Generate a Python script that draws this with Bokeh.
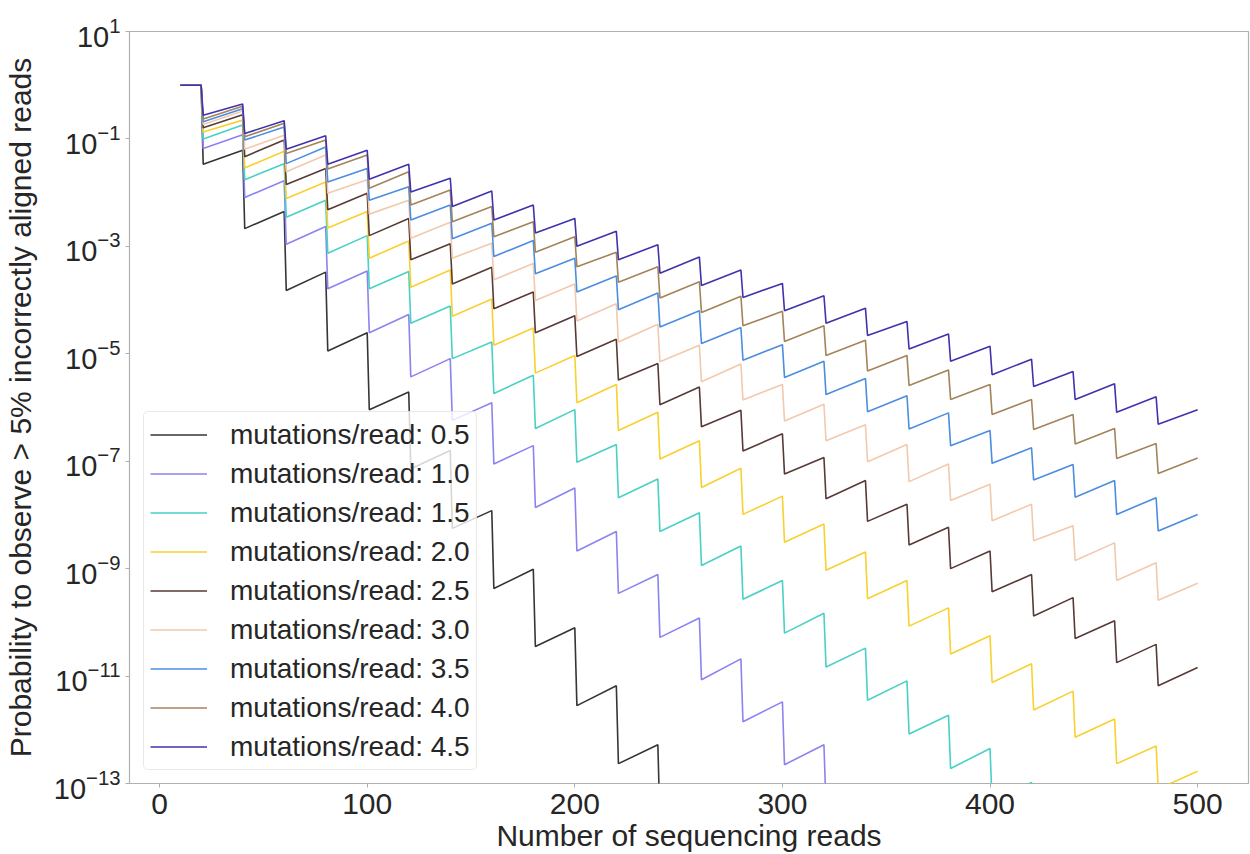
from bokeh.plotting import figure
from bokeh.models import Range1d, FixedTicker, Legend, LegendItem
from bokeh.embed import file_html
from bokeh.resources import INLINE

# ---------------- data ----------------
mutation_rates = ["0.5", "1.0", "1.5", "2.0", "2.5", "3.0", "3.5", "4.0", "4.5"]
line_colors = ["#353535", "#8b83f2", "#48d1c4", "#f9d030", "#573a36",
               "#f2c9ad", "#4b8de0", "#a3835a", "#3f33ad"]

# reads 10..20: probability 1 for every series
initial_reads = [10, 20]
initial_prob = [1.0, 1.0]

# every later block of 20 reads: first read (after the drop) and last read
block_first_read = [21, 41, 61, 81, 101, 121, 141, 161, 181, 201, 221, 241,
                    261, 281, 301, 321, 341, 361, 381, 401, 421, 441, 461, 481]
block_last_read = [40, 60, 80, 100, 120, 140, 160, 180, 200, 220, 240, 260,
                   280, 300, 320, 340, 360, 380, 400, 420, 440, 460, 480, 500]

# log10(probability) at the first / last read of each block
start_05 = [-1.47, -2.67, -3.82, -4.95, -6.04, -7.14, -8.25, -9.37, -10.45, -11.55, -12.63, -13.72]
end_05 = [-1.21, -2.35, -3.48, -4.61, -5.71, -6.80, -7.92, -9.01, -10.10, -11.18, -12.28]

start_10 = [-1.18, -2.09, -2.96, -3.79, -4.61, -5.43, -6.24, -7.05, -7.86, -8.67, -9.46, -10.28,
            -11.07, -11.85, -12.65, -13.45]
end_10 = [-0.92, -1.78, -2.63, -3.46, -4.27, -5.09, -5.91, -6.71, -7.50, -8.31, -9.11, -9.92,
          -10.68, -11.48, -12.28, -13.08]

start_15 = [-1.00, -1.76, -2.46, -3.13, -3.79, -4.43, -5.09, -5.74, -6.39, -7.02, -7.68, -8.31,
            -8.94, -9.57, -10.20, -10.83, -11.45, -12.08, -12.72, -13.35, -13.97]
end_15 = [-0.74, -1.46, -2.14, -2.80, -3.47, -4.11, -4.78, -5.40, -6.04, -6.69, -7.33, -7.96,
          -8.58, -9.22, -9.83, -10.48, -11.09, -11.73, -12.35, -12.98]

start_20 = [-0.87, -1.54, -2.11, -2.66, -3.22, -3.76, -4.30, -4.84, -5.36, -5.91, -6.43, -6.96,
            -7.49, -7.99, -8.51, -9.03, -9.56, -10.07, -10.59, -11.12, -11.63, -12.14, -12.63, -13.10]
end_20 = [-0.65, -1.23, -1.80, -2.35, -2.90, -3.44, -3.98, -4.52, -5.03, -5.57, -6.09, -6.62,
          -7.13, -7.65, -8.17, -8.69, -9.22, -9.73, -10.25, -10.77, -11.28, -11.80, -12.30, -12.77]

start_25 = [-0.79, -1.33, -1.85, -2.32, -2.80, -3.25, -3.70, -4.16, -4.61, -5.05, -5.49, -5.95,
            -6.36, -6.81, -7.24, -7.70, -8.12, -8.56, -9.00, -9.43, -9.88, -10.30, -10.75, -11.18]
end_25 = [-0.55, -1.02, -1.55, -2.01, -2.48, -2.95, -3.39, -3.85, -4.29, -4.73, -5.18, -5.62,
          -6.05, -6.49, -6.93, -7.36, -7.80, -8.23, -8.67, -9.11, -9.54, -9.97, -10.41, -10.84]

start_30 = [-0.73, -1.19, -1.61, -2.01, -2.40, -2.85, -3.22, -3.62, -4.01, -4.39, -4.78, -5.15,
            -5.52, -5.86, -6.25, -6.62, -7.01, -7.38, -7.73, -8.11, -8.48, -8.85, -9.22, -9.59]
end_30 = [-0.48, -0.93, -1.30, -1.76, -2.14, -2.55, -2.94, -3.32, -3.70, -4.07, -4.45, -4.84,
          -5.19, -5.57, -5.94, -6.32, -6.69, -7.05, -7.43, -7.80, -8.20, -8.52, -8.89, -9.27]

start_35 = [-0.68, -1.02, -1.46, -1.80, -2.14, -2.51, -2.86, -3.19, -3.51, -3.85, -4.18, -4.50,
            -4.81, -5.12, -5.44, -5.76, -6.08, -6.40, -6.71, -7.04, -7.35, -7.67, -7.99, -8.30]
end_35 = [-0.44, -0.78, -1.15, -1.55, -1.89, -2.23, -2.57, -2.89, -3.22, -3.55, -3.87, -4.20,
          -4.51, -4.83, -5.14, -5.46, -5.78, -6.10, -6.43, -6.75, -7.06, -7.36, -7.68, -7.99]

start_40 = [-0.63, -0.96, -1.27, -1.56, -1.92, -2.23, -2.54, -2.82, -3.11, -3.38, -3.67, -3.96,
            -4.23, -4.48, -4.77, -5.03, -5.32, -5.59, -5.85, -6.13, -6.41, -6.68, -6.95, -7.23]
end_40 = [-0.39, -0.71, -1.02, -1.30, -1.61, -1.95, -2.26, -2.54, -2.82, -3.11, -3.38, -3.66,
          -3.93, -4.21, -4.48, -4.75, -5.03, -5.30, -5.57, -5.85, -6.13, -6.39, -6.67, -6.94]

start_45 = [-0.56, -0.90, -1.19, -1.47, -1.75, -1.99, -2.26, -2.51, -2.75, -3.00, -3.25, -3.50,
            -3.73, -3.95, -4.20, -4.43, -4.66, -4.91, -5.14, -5.39, -5.61, -5.85, -6.09, -6.31]
end_45 = [-0.35, -0.66, -0.94, -1.21, -1.47, -1.73, -1.97, -2.23, -2.48, -2.72, -2.97, -3.20,
          -3.44, -3.69, -3.92, -4.15, -4.40, -4.63, -4.86, -5.10, -5.33, -5.56, -5.80, -6.04]

series_starts = [start_05, start_10, start_15, start_20, start_25, start_30, start_35, start_40, start_45]
series_ends = [end_05, end_10, end_15, end_20, end_25, end_30, end_35, end_40, end_45]

x_ticks = [0, 100, 200, 300, 400, 500]
y_tick_exponents = [1, -1, -3, -5, -7, -9, -11, -13]

# ---------------- figure ----------------
FONT = "Liberation Sans"
TXT = "#262626"
EDGE = "#b0b0b0"

p = figure(
    width=1250, height=854,
    min_border_left=128, min_border_right=2, min_border_top=31, min_border_bottom=67,
    y_axis_type="log",
    x_range=Range1d(-14.5, 524.5), y_range=Range1d(1e-13, 1e1),
    output_backend="svg", toolbar_location=None,
    background_fill_color="white", border_fill_color="white",
)
p.grid.visible = False
p.outline_line_color = EDGE
p.outline_line_width = 1.2

items = []
for rate, col, st, en in zip(mutation_rates, line_colors, series_starts, series_ends):
    xs = list(initial_reads)
    ys = list(initial_prob)
    for k in range(len(st)):
        xs.append(block_first_read[k])
        ys.append(10.0 ** st[k])
        if k < len(en):
            xs.append(block_last_read[k])
            ys.append(10.0 ** en[k])
    r = p.line(xs, ys, line_color=col, line_width=1.6)
    items.append(LegendItem(label="mutations/read: " + rate, renderers=[r]))

legend = Legend(
    items=items, location=(14, 13),
    label_text_font=FONT, label_text_font_size="28px", label_text_color=TXT,
    glyph_width=57, glyph_height=33, label_height=33, label_standoff=23,
    spacing=6, padding=6, margin=0,
    border_line_color="#d4d4d4", border_line_width=1,
    background_fill_color="white", background_fill_alpha=0.8,
)
try:
    legend.border_radius = 5
except Exception:
    pass
p.add_layout(legend, "center")

y_tick_values = [10.0 ** e for e in y_tick_exponents]
p.yaxis.ticker = FixedTicker(ticks=y_tick_values, minor_ticks=[])
p.xaxis.ticker = FixedTicker(ticks=x_ticks, minor_ticks=[])

for ax in (p.xaxis[0], p.yaxis[0]):
    ax.axis_line_color = None
    ax.major_tick_line_color = EDGE
    ax.major_tick_out = 4
    ax.major_tick_in = 0
    ax.minor_tick_out = 0
    ax.minor_tick_in = 0
    ax.major_label_text_font = FONT
    ax.major_label_text_color = TXT
    ax.axis_label_text_font = FONT
    ax.axis_label_text_color = TXT
    ax.axis_label_text_font_style = "normal"
    ax.axis_label_text_font_size = "30px"

p.xaxis.major_label_text_font_size = "30px"
p.yaxis.major_label_text_font_size = "29px"
p.xaxis.major_label_standoff = 6
p.xaxis.axis_label_standoff = 2
p.yaxis.major_label_standoff = 5
p.yaxis.axis_label_standoff = 14
p.xaxis.axis_label = "Number of sequencing reads"
p.yaxis.axis_label = "Probability to observe > 5% incorrectly aligned reads"

open("out.html", "w").write(file_html(p, INLINE))
